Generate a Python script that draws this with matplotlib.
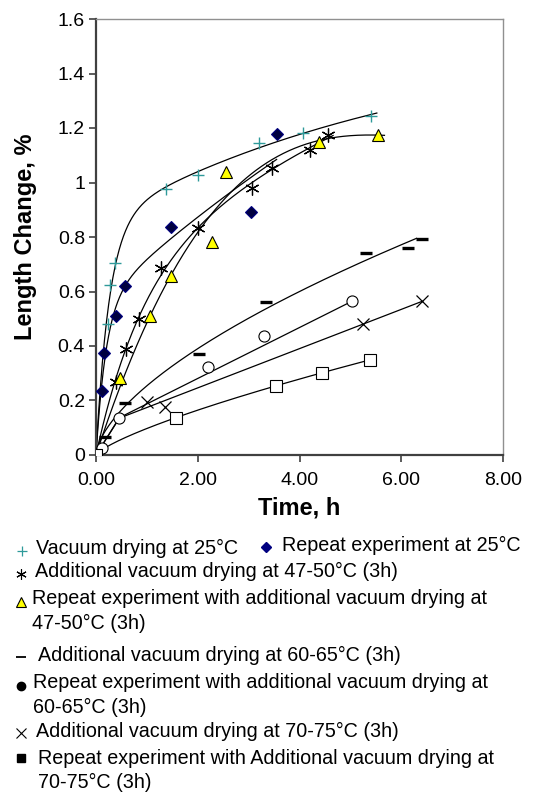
import numpy as np
import matplotlib
matplotlib.use("Agg")
import matplotlib.pyplot as plt

plt.rcParams['font.family'] = ['Liberation Sans', 'DejaVu Sans']

# ---------------- data ----------------
vac25_t = [0.0, 0.23, 0.275, 0.373, 1.37, 2.01, 3.21, 4.06, 5.40]
vac25_y = [0.0, 0.48, 0.624, 0.703, 0.976, 1.028, 1.144, 1.18, 1.245]

rep25_t = [0.0, 0.11, 0.157, 0.39, 0.57, 1.47, 3.05, 3.55]
rep25_y = [0.0, 0.235, 0.373, 0.511, 0.621, 0.837, 0.893, 1.178]

add47_t = [0.0, 0.39, 0.59, 0.85, 1.27, 2.01, 3.06, 3.45, 4.20, 4.56]
add47_y = [0.0, 0.269, 0.39, 0.50, 0.685, 0.832, 0.981, 1.054, 1.119, 1.174]

rep47_t = [0.0, 0.47, 1.06, 1.47, 2.28, 2.55, 4.38, 5.55]
rep47_y = [0.0, 0.284, 0.51, 0.658, 0.78, 1.04, 1.15, 1.174]

add60_t = [0.0, 0.18, 0.57, 2.02, 3.35, 5.30, 6.14, 6.40]
add60_y = [0.0, 0.065, 0.192, 0.37, 0.563, 0.742, 0.761, 0.793]

rep60_t = [0.0, 0.11, 0.46, 2.21, 3.30, 5.04]
rep60_y = [0.0, 0.024, 0.137, 0.324, 0.438, 0.565]

add70_t = [0.0, 1.00, 1.36, 5.25, 6.40]
add70_y = [0.0, 0.196, 0.177, 0.48, 0.565]

rep70_t = [0.0, 1.57, 3.54, 4.45, 5.38]
rep70_y = [0.0, 0.137, 0.254, 0.302, 0.349]

x_ticks = [0, 2, 4, 6, 8]
x_ticklabels = ['0.00', '2.00', '4.00', '6.00', '8.00']
y_ticks = [0, 0.2, 0.4, 0.6, 0.8, 1.0, 1.2, 1.4, 1.6]
y_ticklabels = ['0', '0.2', '0.4', '0.6', '0.8', '1', '1.2', '1.4', '1.6']

legend_labels = [
    'Vacuum drying at 25°C',
    'Repeat experiment at 25°C',
    'Additional vacuum drying at 47-50°C (3h)',
    'Repeat experiment with additional vacuum drying at\n47-50°C (3h)',
    'Additional vacuum drying at 60-65°C (3h)',
    'Repeat experiment with additional vacuum drying at\n60-65°C (3h)',
    'Additional vacuum drying at 70-75°C (3h)',
    'Repeat experiment with Additional vacuum drying at\n70-75°C (3h)',
]

# ---------------- trendlines computed from the data ----------------
def power_fit(t, y):
    t = np.asarray(t, float); y = np.asarray(y, float)
    m = (t > 0) & (y > 0)
    b, lna = np.polyfit(np.log(t[m]), np.log(y[m]), 1)
    return lambda x: np.exp(lna) * np.power(x, b)

def power_fit_lin(t, y):
    t = np.asarray(t, float); y = np.asarray(y, float)
    m = t > 0
    best = None
    for b in np.linspace(0.1, 1.2, 221):
        xb = t[m] ** b
        a = np.sum(y[m] * xb) / np.sum(xb * xb)
        e = np.sum((y[m] - a * xb) ** 2)
        if best is None or e < best[0]:
            best = (e, a, b)
    _, a, b = best
    return lambda x: a * np.power(x, b)

def double_exp_fit(t, y):
    # y = a(1-exp(-x/k1)) + c(1-exp(-x/k2)), least squares
    t = np.asarray(t, float); y = np.asarray(y, float)
    best = None
    for k1 in np.linspace(0.1, 1.0, 46):
        for k2 in np.linspace(1.0, 12.0, 56):
            A = np.column_stack([1 - np.exp(-t / k1), 1 - np.exp(-t / k2)])
            c, *_ = np.linalg.lstsq(A, y, rcond=None)
            e = np.sum((A @ c - y) ** 2)
            if best is None or e < best[0]:
                best = (e, k1, k2, c)
    _, k1, k2, c = best
    return lambda x: c[0] * (1 - np.exp(-x / k1)) + c[1] * (1 - np.exp(-x / k2))

def poly3_origin_fit(t, y):
    t = np.asarray(t, float); y = np.asarray(y, float)
    A = np.column_stack([t, t**2, t**3])
    c, *_ = np.linalg.lstsq(A, y, rcond=None)
    return lambda x: c[0]*x + c[1]*x**2 + c[2]*x**3

def linear_fit(t, y, tmin=0.3):
    t = np.asarray(t, float); y = np.asarray(y, float)
    m = t > tmin
    k, c = np.polyfit(t[m], y[m], 1)
    return lambda x: k*x + c

def endpoint_line(t, y, tmin=0.3):
    t = np.asarray(t, float); y = np.asarray(y, float)
    m = t > tmin
    tt, yy = t[m], y[m]
    k = (yy[-1] - yy[0]) / (tt[-1] - tt[0])
    return lambda x: yy[0] + k * (x - tt[0])

fig = plt.figure(figsize=(5.40, 7.94), dpi=100)
ax = fig.add_axes([96/540, 1 - 455/794, 407/540, 436/794])

LW = 0.9

def draw_curve(f, x0, x1, start_origin=False):
    xs = np.linspace(x0, x1, 400)
    ys = f(xs)
    if start_origin:
        xs = np.concatenate([[0.0], xs]); ys = np.concatenate([[0.0], ys])
    ax.plot(xs, ys, color='black', lw=LW, zorder=2)

draw_curve(double_exp_fit(vac25_t, vac25_y), 0, max(vac25_t) + 0.12)
draw_curve(double_exp_fit(rep25_t, rep25_y), 0, max(rep25_t))
draw_curve(double_exp_fit(add47_t, add47_y), 0, max(add47_t) + 0.1)
draw_curve(poly3_origin_fit(rep47_t, rep47_y), 0, max(rep47_t) + 0.12)
draw_curve(power_fit_lin(add60_t, add60_y), 0, max(add60_t) - 0.1)
LIN_START = 0.46
draw_curve(endpoint_line(rep60_t, rep60_y), LIN_START, max(rep60_t), start_origin=True)
draw_curve(linear_fit(add70_t, add70_y), LIN_START, max(add70_t), start_origin=True)
draw_curve(power_fit(rep70_t, rep70_y), 0, max(rep70_t))

teal = '#2E9A9A'
navy = '#000080'
ast = (6, 2, 0)

ax.plot(vac25_t, vac25_y, ls='none', marker='+', ms=9, mew=1.0, color=teal, zorder=3)
ax.plot(rep25_t, rep25_y, ls='none', marker='D', ms=6.2, mfc='#000040', mec=navy, mew=0.8, zorder=3)
ax.plot(add47_t, add47_y, ls='none', marker=ast, ms=10, mew=0.9, color='black', zorder=3)
ax.plot(rep47_t, rep47_y, ls='none', marker='^', ms=8.5, mfc='#FFFF00', mec='black', mew=0.8, zorder=3)
ax.plot(add60_t, add60_y, ls='none', marker='_', ms=8.5, mew=2.4, color='black', zorder=3)
ax.plot(rep60_t, rep60_y, ls='none', marker='o', ms=8, mfc='white', mec='black', mew=0.8, zorder=3)
ax.plot(add70_t, add70_y, ls='none', marker='x', ms=9, mew=0.9, color='black', zorder=3)
ax.plot(rep70_t, rep70_y, ls='none', marker='s', ms=8, mfc='white', mec='black', mew=0.8, zorder=3)

ax.set_xlim(0, 8)
ax.set_ylim(0, 1.6)
ax.set_xticks(x_ticks)
ax.set_xticklabels(x_ticklabels, fontsize=14)
ax.set_yticks(y_ticks)
ax.set_yticklabels(y_ticklabels, fontsize=14)
ax.tick_params(axis='x', direction='out', length=5, width=1.2, color='#404040', pad=7)
ax.tick_params(axis='y', direction='out', length=5, width=1.2, color='#404040', pad=3)
for s in ['left', 'bottom']:
    ax.spines[s].set_color('#404040'); ax.spines[s].set_linewidth(1.6)
for s in ['top', 'right']:
    ax.spines[s].set_color('#909090'); ax.spines[s].set_linewidth(1.0)
ax.set_xlabel('Time, h', fontsize=17, fontweight='bold', labelpad=6)
ax.set_ylabel('Length Change, %', fontsize=17, fontweight='bold', labelpad=15)

# ---------------- legend drawn in pixel coordinates ----------------
lg = fig.add_axes([0, 0, 1, 1])
lg.set_xlim(0, 540); lg.set_ylim(794, 0); lg.axis('off')
FS = 14.2
items = [
    (21.5, 551, dict(marker='+', ms=7, mew=0.9, color=teal), 36.5, 548, legend_labels[0]),
    (265.5, 546.5, dict(marker='D', ms=5, mfc=navy, mec=navy), 281.5, 545, legend_labels[1]),
    (20.5, 574, dict(marker=ast, ms=7.5, mew=0.8, color='black'), 35, 571.5, legend_labels[2]),
    (20.5, 601.5, dict(marker='^', ms=6.5, mfc='#FFFF00', mec='black', mew=0.8), 32, 599, legend_labels[3]),
    (20.5, 656.5, dict(marker='_', ms=7, mew=1.3, color='black'), 38, 655, legend_labels[4]),
    (20.5, 685.5, dict(marker='o', ms=6, mfc='black', mec='black'), 33, 683, legend_labels[5]),
    (20.5, 733, dict(marker='x', ms=6.5, mew=0.8, color='black'), 36.5, 731.5, legend_labels[6]),
    (20.5, 757.5, dict(marker='s', ms=6, mfc='black', mec='black'), 38, 758, legend_labels[7]),
]
for mx, my, mk, tx, ty, txt in items:
    lg.plot([mx], [my], ls='none', **mk)
    lines = txt.split('\n')
    lg.text(tx, ty, lines[0], fontsize=FS, va='center', ha='left')
    if len(lines) > 1:
        lg.text(tx, ty + 24.5, lines[1], fontsize=FS, va='center', ha='left')

fig.savefig('out.png', dpi=100)
